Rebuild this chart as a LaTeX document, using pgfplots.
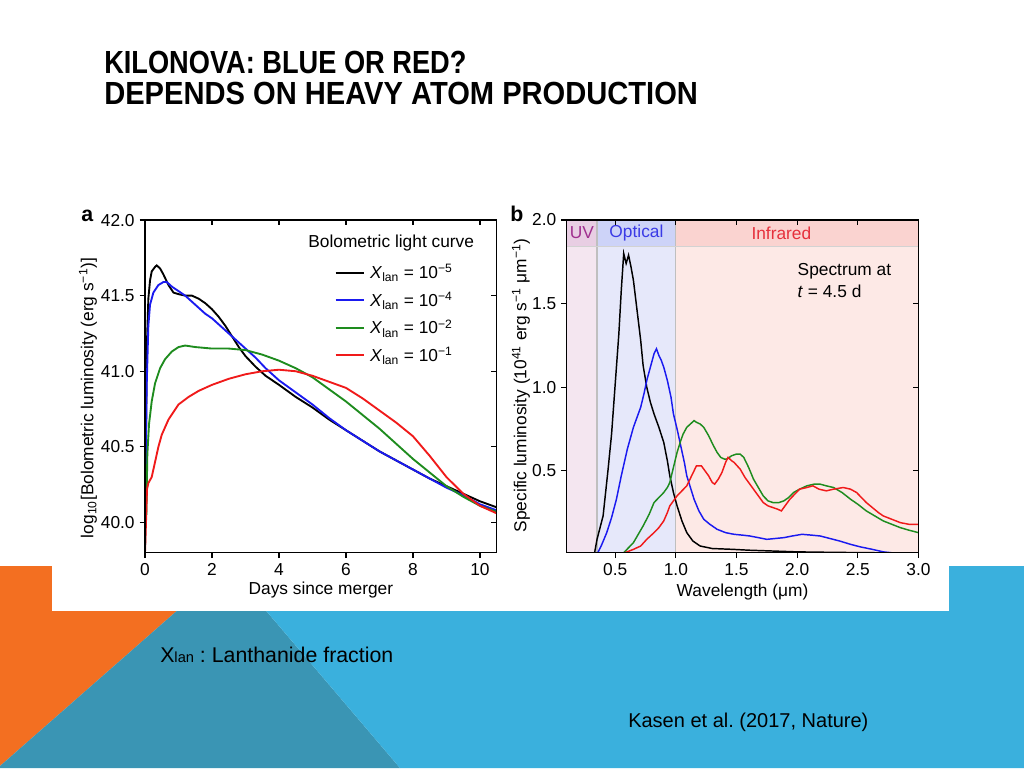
\documentclass[border=0pt]{standalone}
\usepackage{fontspec}
\setmainfont{Liberation Sans}
\usepackage{pgfplots}
\pgfplotsset{compat=1.18}
\definecolor{orng}{HTML}{F36F21}
\definecolor{lblue}{HTML}{3AB0DD}
\definecolor{teal2}{HTML}{3A95B4}
\definecolor{uvbody}{HTML}{F4E6F0}
\definecolor{uvhead}{HTML}{E8CEE3}
\definecolor{opbody}{HTML}{E6E8FA}
\definecolor{ophead}{HTML}{CDD3F8}
\definecolor{irbody}{HTML}{FDE9E6}
\definecolor{irhead}{HTML}{FAD3D0}
\definecolor{uvtxt}{HTML}{A0308E}
\definecolor{optxt}{HTML}{3A3AE6}
\definecolor{irtxt}{HTML}{E6303C}
\definecolor{cblk}{HTML}{000000}
\definecolor{cblu}{HTML}{1A1AF0}
\definecolor{cgrn}{HTML}{1E8C1E}
\definecolor{cred}{HTML}{F01A1A}
\frenchspacing
\begin{document}
\begin{tikzpicture}[x=0.75pt,y=0.75pt]
\fill[white] (0,0) rectangle (1024,768);
\fill[orng] (0,202) -- (228,202) -- (0,2) -- cycle;
\fill[teal2] (228,202) -- (0,2) -- (0,0) -- (400,0) -- cycle;
\fill[lblue] (228,202) -- (1024,202) -- (1024,0) -- (400,0) -- cycle;
\fill[white] (52,157) rectangle (949,585);
\coordinate (PA) at (145,215.3);
\coordinate (PB) at (566.7,215.3);
% titles
\node[anchor=base west, inner sep=0pt] at (104,694) {\scalebox{0.85}[1]{\fontsize{24}{28}\selectfont\bfseries KILONOVA: BLUE OR RED?}};
\node[anchor=base west, inner sep=0pt] at (104,663) {\scalebox{0.91}[1]{\fontsize{24}{28}\selectfont\bfseries DEPENDS ON HEAVY ATOM PRODUCTION}};
\node[anchor=base west, inner sep=0pt] at (160,106) {\fontsize{16}{18}\selectfont X{\fontsize{11}{12}\selectfont lan} : Lanthanide fraction};
\node[anchor=base west, inner sep=0pt] at (628,41) {\fontsize{15}{18}\selectfont Kasen et al. (2017, Nature)};
% panel letters
\node[anchor=base west, inner sep=0pt] at (81,546) {\fontsize{16}{16}\selectfont\bfseries a};
\node[anchor=base west, inner sep=0pt] at (510,546) {\fontsize{16}{16}\selectfont\bfseries b};

\pgfplotsset{every axis/.append style={font=\fontsize{13}{15}\selectfont,
  /pgf/number format/assume math mode=true,
  scale only axis, width=263.8pt, height=249.5pt, anchor=south west,
  line width=0.9pt, major tick length=4pt,
  every tick/.style={black, line width=0.9pt}}}

% ---------- Panel a ----------
\begin{axis}[at={(PA)}, anchor=south west,
  xmin=0, xmax=10.5, ymin=39.8, ymax=42,
  xtick={0,2,4,6,8,10}, ytick={40,40.5,41,41.5,42},
  yticklabel style={/pgf/number format/.cd, fixed, fixed zerofill, precision=1},
  tick align=outside, xtick pos=left, ytick pos=left,
  xlabel={Days since merger},
  ylabel={log\textsubscript{10}[Bolometric luminosity (erg s\textsuperscript{−1})]},
  xlabel style={at={(axis description cs:0.5,-0.111)}, anchor=center},
  ylabel style={at={(axis description cs:-0.162,0.465)}, anchor=center},
  legend style={draw=none, fill=none, at={(0.526,0.884)}, anchor=north west,
    row sep=4.5pt, column sep=2pt, font=\fontsize{13}{15}\selectfont},
  legend cell align=left,
  legend image code/.code={\draw[#1, line width=1.6pt] (0cm,0cm) -- (0.74cm,0cm);},
]
\addplot[cblk, line width=1.4pt] coordinates {
(0.0,39.8) (0.03,40.6) (0.06,41.2) (0.1,41.48) (0.15,41.6) (0.2,41.66) (0.3,41.69) (0.35,41.70)
(0.45,41.68) (0.55,41.64) (0.7,41.57) (0.85,41.52) (1.0,41.51) (1.2,41.5) (1.4,41.5) (1.6,41.48)
(1.8,41.45) (2.0,41.41) (2.2,41.36) (2.4,41.30) (2.6,41.23) (2.8,41.16) (3.0,41.10) (3.3,41.03)
(3.6,40.97) (4.0,40.91) (4.5,40.83) (5.0,40.76) (5.5,40.68) (6.0,40.61) (6.5,40.54) (7.0,40.47)
(7.5,40.41) (8.0,40.35) (8.5,40.29) (9.0,40.24) (9.5,40.19) (10.0,40.14) (10.5,40.10)};
\addlegendentry{\textit{X}\textsubscript{lan} = 10\textsuperscript{−5}}
\addplot[cblu, line width=1.4pt] coordinates {
(0.0,39.95) (0.02,40.3) (0.05,40.9) (0.1,41.3) (0.15,41.44) (0.25,41.52) (0.4,41.57) (0.55,41.59)
(0.65,41.59) (0.8,41.56) (1.0,41.53) (1.2,41.5) (1.4,41.46) (1.6,41.42) (1.8,41.38) (2.0,41.35)
(2.2,41.31) (2.4,41.27) (2.6,41.23) (2.8,41.19) (3.0,41.15) (3.3,41.09) (3.6,41.02) (4.0,40.94)
(4.5,40.86) (5.0,40.78) (5.5,40.69) (6.0,40.61) (6.5,40.54) (7.0,40.47) (7.5,40.41) (8.0,40.35)
(8.5,40.29) (9.0,40.23) (9.5,40.18) (10.0,40.12) (10.5,40.08)};
\addlegendentry{\textit{X}\textsubscript{lan} = 10\textsuperscript{−4}}
\addplot[cgrn, line width=1.4pt] coordinates {
(0.0,40.05) (0.02,40.3) (0.04,40.05) (0.07,40.45) (0.12,40.65) (0.2,40.8) (0.3,40.92) (0.45,41.02)
(0.6,41.08) (0.8,41.13) (1.0,41.16) (1.2,41.17) (1.5,41.16) (2.0,41.15) (2.5,41.15) (3.0,41.14)
(3.5,41.11) (4.0,41.07) (4.5,41.02) (5.0,40.96) (5.5,40.88) (6.0,40.80) (6.5,40.71) (7.0,40.62)
(7.5,40.52) (8.0,40.42) (8.5,40.33) (9.0,40.24) (9.5,40.17) (10.0,40.11) (10.5,40.07)};
\addlegendentry{\textit{X}\textsubscript{lan} = 10\textsuperscript{−2}}
\addplot[cred, line width=1.4pt] coordinates {
(0.0,39.8) (0.03,40.0) (0.06,40.22) (0.1,40.26) (0.2,40.3) (0.3,40.4) (0.4,40.5) (0.5,40.58)
(0.7,40.68) (1.0,40.78) (1.3,40.83) (1.6,40.87) (2.0,40.91) (2.5,40.95) (3.0,40.98) (3.5,41.0)
(4.0,41.01) (4.5,41.0) (5.0,40.97) (5.5,40.93) (6.0,40.89) (6.5,40.82) (7.0,40.74) (7.5,40.66)
(8.0,40.57) (8.5,40.44) (9.0,40.30) (9.5,40.19) (10.0,40.11) (10.5,40.06)};
\addlegendentry{\textit{X}\textsubscript{lan} = 10\textsuperscript{−1}}
\node[anchor=center] at (rel axis cs:0.70,0.931) {Bolometric light curve};
\end{axis}
\begin{axis}[at={(PA)}, anchor=south west, xmin=0, xmax=10.5, ymin=39.8, ymax=42,
  xtick={0,2,4,6,8,10}, ytick={40,40.5,41,41.5,42},
  xticklabels={}, yticklabels={}, tick align=inside, xtick pos=right, ytick pos=right]
\end{axis}

% ---------- Panel b ----------
\begin{axis}[at={(PB)}, anchor=south west,
  xmin=0.1, xmax=3.0, ymin=0.01, ymax=2.0,
  xtick={0.5,1.0,1.5,2.0,2.5,3.0}, ytick={0.5,1.0,1.5,2.0},
  xticklabel style={/pgf/number format/.cd, fixed, fixed zerofill, precision=1},
  yticklabel style={/pgf/number format/.cd, fixed, fixed zerofill, precision=1},
  tick align=outside, xtick pos=left, ytick pos=left, axis on top,
  xlabel={Wavelength (μm)},
  ylabel={Specific luminosity (10\textsuperscript{41} erg s\textsuperscript{−1} μm\textsuperscript{−1})},
  xlabel style={at={(axis description cs:0.5,-0.117)}, anchor=center},
  ylabel style={at={(axis description cs:-0.13,0.503)}, anchor=center},
]
\fill[uvbody] (axis cs:0.1,0.01) rectangle (axis cs:0.35,2.0);
\fill[opbody] (axis cs:0.35,0.01) rectangle (axis cs:1.0,2.0);
\fill[irbody] (axis cs:1.0,0.01) rectangle (axis cs:3.0,2.0);
\fill[uvhead] (axis cs:0.1,1.845) rectangle (axis cs:0.35,2.0);
\fill[ophead] (axis cs:0.35,1.845) rectangle (axis cs:1.0,2.0);
\fill[irhead] (axis cs:1.0,1.845) rectangle (axis cs:3.0,2.0);
\draw[gray!50, line width=0.8pt] (axis cs:0.35,0.01) -- (axis cs:0.35,2.0);
\draw[gray!50, line width=0.8pt] (axis cs:1.0,0.01) -- (axis cs:1.0,2.0);
\draw[gray!35, line width=0.6pt] (axis cs:0.1,1.845) -- (axis cs:3.0,1.845);
\node[text=uvtxt] at (axis cs:0.225,1.922) {UV};
\node[text=optxt] at (axis cs:0.675,1.922) {Optical};
\node[text=irtxt] at (axis cs:1.87,1.922) {Infrared};
\node[anchor=north west, align=left, inner sep=0pt] at (rel axis cs:0.655,0.872)
  {Spectrum at\\[2pt]\textit{t} = 4.5 d};
\addplot[cblk, line width=1.1pt] coordinates {
(0.31,0.0) (0.33,0.01) (0.35,0.09) (0.40,0.23) (0.44,0.50) (0.47,0.72) (0.50,1.02) (0.53,1.32)
(0.55,1.58) (0.57,1.80) (0.59,1.74) (0.61,1.79) (0.63,1.72) (0.65,1.64) (0.68,1.46) (0.71,1.28)
(0.73,1.13) (0.76,1.00) (0.79,0.91) (0.82,0.84) (0.86,0.76) (0.90,0.67) (0.93,0.56) (0.95,0.47)
(0.98,0.37) (1.01,0.29) (1.05,0.20) (1.09,0.13) (1.14,0.08) (1.20,0.05) (1.30,0.035) (1.47,0.03)
(1.60,0.025) (1.80,0.02) (2.0,0.015) (2.3,0.012) (2.6,0.01) (3.0,0.008)};
\addplot[cblu, line width=1.1pt] coordinates {
(0.35,0.0) (0.39,0.06) (0.43,0.13) (0.47,0.22) (0.51,0.33) (0.55,0.47) (0.60,0.63) (0.65,0.76)
(0.71,0.88) (0.74,0.97) (0.76,1.04) (0.79,1.12) (0.82,1.20) (0.84,1.23) (0.86,1.19) (0.88,1.16)
(0.90,1.12) (0.93,1.04) (0.96,0.94) (0.98,0.84) (1.01,0.75) (1.04,0.65) (1.07,0.55) (1.09,0.47)
(1.12,0.40) (1.15,0.33) (1.19,0.26) (1.23,0.21) (1.28,0.18) (1.34,0.15) (1.41,0.13) (1.48,0.12)
(1.55,0.115) (1.61,0.11) (1.68,0.10) (1.75,0.09) (1.82,0.095) (1.89,0.10) (1.96,0.11) (2.04,0.12)
(2.12,0.115) (2.19,0.11) (2.27,0.095) (2.35,0.08) (2.44,0.06) (2.52,0.045) (2.62,0.03) (2.71,0.015)
(2.80,0.008) (2.90,0.004) (3.0,0.002)};
\addplot[cgrn, line width=1.1pt] coordinates {
(0.57,0.01) (0.61,0.04) (0.65,0.07) (0.69,0.12) (0.73,0.17) (0.78,0.24) (0.82,0.31) (0.86,0.34)
(0.90,0.37) (0.93,0.40) (0.95,0.43) (0.98,0.52) (1.01,0.61) (1.04,0.68) (1.06,0.72) (1.09,0.76)
(1.12,0.78) (1.15,0.80) (1.17,0.79) (1.20,0.78) (1.23,0.76) (1.27,0.71) (1.31,0.65) (1.34,0.61)
(1.37,0.58) (1.40,0.57) (1.42,0.57) (1.46,0.59) (1.50,0.60) (1.53,0.60) (1.56,0.58) (1.60,0.52)
(1.64,0.45) (1.68,0.40) (1.72,0.35) (1.76,0.32) (1.80,0.31) (1.85,0.31) (1.89,0.32) (1.93,0.34)
(1.97,0.37) (2.02,0.39) (2.08,0.41) (2.14,0.42) (2.19,0.42) (2.24,0.41) (2.30,0.40) (2.37,0.37)
(2.44,0.33) (2.50,0.30) (2.57,0.26) (2.64,0.23) (2.71,0.20) (2.78,0.18) (2.85,0.16) (2.92,0.145)
(3.0,0.13)};
\addplot[cred, line width=1.1pt] coordinates {
(0.58,0.01) (0.65,0.03) (0.71,0.05) (0.76,0.09) (0.82,0.13) (0.86,0.16) (0.90,0.20) (0.93,0.25)
(0.95,0.29) (0.98,0.32) (1.01,0.35) (1.05,0.38) (1.09,0.41) (1.13,0.47) (1.17,0.53) (1.21,0.53)
(1.24,0.50) (1.27,0.47) (1.30,0.43) (1.32,0.42) (1.35,0.45) (1.38,0.49) (1.41,0.55) (1.43,0.58)
(1.46,0.56) (1.48,0.55) (1.53,0.51) (1.57,0.46) (1.62,0.41) (1.67,0.36) (1.72,0.31) (1.76,0.29)
(1.80,0.28) (1.84,0.27) (1.87,0.26) (1.90,0.29) (1.94,0.33) (1.98,0.36) (2.02,0.39) (2.08,0.40)
(2.13,0.41) (2.18,0.39) (2.24,0.38) (2.30,0.39) (2.38,0.40) (2.44,0.39) (2.49,0.37) (2.53,0.34)
(2.57,0.31) (2.62,0.28) (2.67,0.25) (2.71,0.23) (2.78,0.21) (2.85,0.19) (2.92,0.18) (3.0,0.18)};
\end{axis}
\begin{axis}[at={(PB)}, anchor=south west, xmin=0.1, xmax=3.0, ymin=0.01, ymax=2.0,
  xtick={0.5,1.0,1.5,2.0,2.5,3.0}, ytick={0.5,1.0,1.5,2.0},
  xticklabels={}, yticklabels={}, tick align=inside, xtick pos=right, ytick pos=right]
\end{axis}
\end{tikzpicture}
\end{document}
